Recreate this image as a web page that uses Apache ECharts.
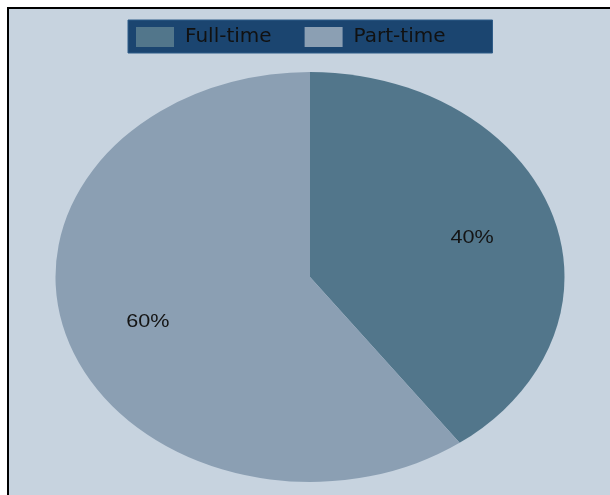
<!DOCTYPE html>
<html>
<head>
<meta charset="utf-8">
<script src="https://cdn.jsdelivr.net/npm/echarts@6/dist/echarts.min.js"></script>
<style>
  html, body { margin: 0; padding: 0; background: #ffffff; }
  #frame {
    position: absolute; left: 7px; top: 7px; width: 603px; height: 488px;
    border-top: 2px solid #000; border-left: 2px solid #000;
    background: #c7d3df; box-sizing: border-box;
  }
  #chart { position: absolute; left: 0; top: 0; width: 610px; height: 495px; }
</style>
</head>
<body>
<div id="frame"></div>
<div id="chart"></div>
<script>
// Employment type shares
const categories = ['Full-time', 'Part-time'];
const shares = [40, 60];
const sliceColors = ['#52768b', '#8b9fb3'];

const total = shares.reduce((a, b) => a + b, 0);

// Oval pie: sectors are drawn on a circle and stretched horizontally
const pieCenter = [310, 277];
const radiusY = 205;
const stretchX = 254.5 / 205;
const labelStretch = 1.2;
const labelRadius = 0.67;
const labelDrop = 3;

function sliceRenderer(idx) {
  return function (params, api) {
    let before = 0;
    for (let i = 0; i < idx; i++) before += shares[i];
    const v = api.value(0);
    const a0 = -Math.PI / 2 + (before / total) * Math.PI * 2;
    const a1 = a0 + (v / total) * Math.PI * 2;
    const mid = (a0 + a1) / 2;
    const lx = pieCenter[0] + Math.cos(mid) * radiusY * labelRadius * stretchX;
    const ly = pieCenter[1] + Math.sin(mid) * radiusY * labelRadius + labelDrop;
    return {
      type: 'group',
      children: [
        {
          type: 'sector',
          x: pieCenter[0], y: pieCenter[1],
          scaleX: stretchX, scaleY: 1,
          shape: { cx: 0, cy: 0, r0: 0, r: radiusY, startAngle: a0, endAngle: a1, clockwise: true },
          style: { fill: api.visual('color') }
        },
        {
          type: 'text',
          x: lx, y: ly,
          scaleX: labelStretch, scaleY: 1,
          style: {
            text: Math.round((v / total) * 100) + '%',
            fill: '#141414',
            font: '18px "Liberation Sans", Arial, sans-serif',
            textAlign: 'center',
            textVerticalAlign: 'middle'
          }
        }
      ]
    };
  };
}

const chart = echarts.init(document.getElementById('chart'), null, { renderer: 'canvas' });
chart.setOption({
  animation: false,
  backgroundColor: 'transparent',
  legend: {
    left: 128, top: 20,
    orient: 'horizontal',
    data: categories,
    icon: 'rect',
    itemWidth: 38, itemHeight: 20,
    itemGap: 33,
    padding: [7, 47, 6, 8],
    backgroundColor: '#1b4570',
    borderColor: '#2f5c88',
    borderWidth: 1,
    selectedMode: false,
    textStyle: {
      color: '#111111',
      fontFamily: '"DejaVu Sans", sans-serif',
      fontSize: 20,
      width: 90,
      padding: [0, 0, 0, 6]
    }
  },
  series: categories.map((name, i) => ({
    type: 'custom',
    name: name,
    coordinateSystem: 'none',
    itemStyle: { color: sliceColors[i] },
    renderItem: sliceRenderer(i),
    data: [[shares[i]]]
  }))
});
</script>
</body>
</html>
